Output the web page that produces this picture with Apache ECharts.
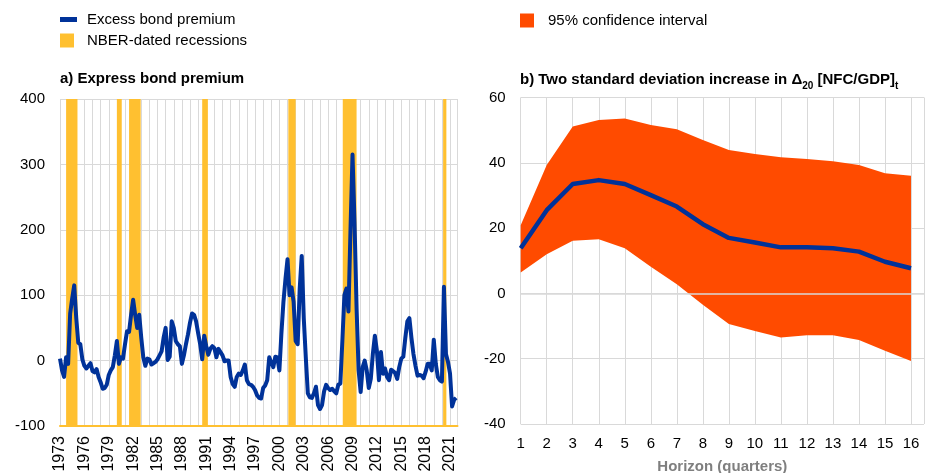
<!DOCTYPE html>
<html>
<head>
<meta charset="utf-8">
<script src="https://cdn.jsdelivr.net/npm/echarts@6/dist/echarts.min.js"></script>
<style>
html,body{margin:0;padding:0;background:#ffffff;}
#chart{width:925px;height:473px;}
</style>
</head>
<body>
<div id="chart"></div>
<script>
// ---------- Panel a) Excess bond premium (quarterly, starting 1973Q1) ----------
const ebpStartYear = 1973;
const ebpPerYear = 4;
const ebpValues = [
  3, -15, -25, 5, -5, 72, 95, 115, 65, 27,
  25, 2, -8, -12, -8, -4, -16, -18, -13, -25,
  -33, -43, -42, -37, -22, -15, -10, 8, 30, -5,
  5, 3, 25, 45, 44, 70, 93, 70, 50, 70,
  35, 5, -8, 3, 2, -6, -4, -2, 2, 8,
  14, 35, 50, 1, 6, 60, 50, 30, 25, 22,
  -5, 8, 25, 40, 58, 72, 70, 60, 42, 25,
  2, 38, 22, 9, 18, 22, 19, 5, 18, 13,
  8, -1, 0, 0, -25, -36, -40, -25, -20, -22,
  -15, -6, -30, -36, -37, -40, -45, -53, -57, -58,
  -42, -38, -30, 5, -3, -10, 6, 5, -15, 42,
  90, 125, 155, 100, 112, 90, 30, 25, 110, 160,
  65, 5, -50, -56, -57, -50, -40, -68, -74, -68,
  -47, -37, -42, -45, -43, -47, -50, -37, -35, 30,
  100, 110, 75, 200, 315, 210, 80, -15, -48, -10,
  0, -15, -42, -28, 10, 38, 15, -30, 13, -20,
  -12, -25, -30, -14, -16, -19, -28, -10, 3, 6,
  35, 60, 65, 35, 10, -8, -23, -22, -23, -27,
  -17, -5, -5, -15, 32, -5, -25, -30, -32, 113,
  10, -2, -20, -70, -60, -57
];
const recessionStart = [1973.75, 1980.0, 1981.5, 1990.5, 2001.1, 2007.8, 2020.15];
const recessionEnd   = [1975.15, 1980.6, 1982.93, 1991.2, 2002.0, 2009.5, 2020.55];
const ebpAxisMin = 1973;
const ebpAxisMax = 2021.92;
const ebpLabelStep = 3;

// ---------- Panel b) Impulse response ----------
const horizons = [1, 2, 3, 4, 5, 6, 7, 8, 9, 10, 11, 12, 13, 14, 15, 16];
const irfMean  = [13.8, 25.5, 33.5, 34.7, 33.5, 30.1, 26.6, 21.2, 17.0, 15.6, 14.1, 14.1, 13.8, 12.8, 9.7, 7.7];
const irfUpper = [20.9, 39.3, 51.1, 53.1, 53.6, 51.6, 50.3, 47.0, 43.9, 42.7, 41.7, 41.2, 40.5, 39.3, 36.8, 36.0];
const irfLower = [6.4, 12.0, 16.1, 16.6, 13.8, 8.2, 2.8, -3.5, -9.4, -11.5, -13.5, -12.8, -12.8, -14.3, -17.6, -20.7];

// ---------- build series data ----------
const ebpData = ebpValues.map((v, i) => [ebpStartYear + i / ebpPerYear, v]);
const recessionAreas = recessionStart.map((s, i) => [{ xAxis: s }, { xAxis: recessionEnd[i] }]);
const bandData = horizons.map((h, i) => [h, irfLower[i], irfUpper[i]]);
const meanData = horizons.map((h, i) => [h, irfMean[i]]);

const FONT = "'Liberation Sans', Arial, sans-serif";
const BLUE = '#003299';
const YELLOW = '#FFC030';
const ORANGE = '#FF4B00';
const GRIDC = '#D9D9D9';

const chart = echarts.init(document.getElementById('chart'), null, { renderer: 'canvas' });

const option = {
  animation: false,
  textStyle: { fontFamily: FONT },
  title: [
    {
      left: 60, top: 71, padding: 0,
      text: 'a) Express bond premium',
      textStyle: { fontSize: 15, fontWeight: 'bold', color: '#000', fontFamily: FONT }
    },
    {
      left: 520, top: 69, padding: 0,
      text: '{b|b) Two standard deviation increase in Δ}{s|20}{b| [NFC/GDP]}{s|t}',
      textStyle: {
        rich: {
          b: { fontSize: 15, fontWeight: 'bold', color: '#000', fontFamily: FONT, lineHeight: 22, verticalAlign: 'middle' },
          s: { fontSize: 10, fontWeight: 'bold', color: '#000', fontFamily: FONT, lineHeight: 10, verticalAlign: 'bottom' }
        }
      }
    }
  ],
  legend: [
    {
      left: 60, top: 12, padding: 0, selectedMode: false,
      itemWidth: 17, itemHeight: 5,
      data: [{ name: 'Excess bond premium', icon: 'rect' }],
      textStyle: { fontSize: 15, color: '#000', fontFamily: FONT, padding: [0, 0, 0, 5] }
    },
    {
      left: 60, top: 33, padding: 0, selectedMode: false,
      itemWidth: 14, itemHeight: 14,
      data: [{ name: 'NBER-dated recessions', icon: 'rect' }],
      textStyle: { fontSize: 15, color: '#000', fontFamily: FONT, padding: [0, 0, 0, 8] }
    },
    {
      left: 520, top: 13, padding: 0, selectedMode: false,
      itemWidth: 14, itemHeight: 14,
      data: [{ name: '95% confidence interval', icon: 'rect' }],
      textStyle: { fontSize: 15, color: '#000', fontFamily: FONT, padding: [0, 0, 0, 9] }
    }
  ],
  grid: [
    { left: 60, right: 467.5, top: 99, bottom: 47, containLabel: false, outerBoundsMode: 'none' },
    { left: 520.7, right: 1, top: 97.5, bottom: 49, containLabel: false, outerBoundsMode: 'none' }
  ],
  xAxis: [
    {
      type: 'value', gridIndex: 0,
      min: ebpAxisMin, max: ebpAxisMax, interval: 1,
      axisLine: { show: true, onZero: false, lineStyle: { color: YELLOW, width: 2 } },
      axisTick: { show: false },
      splitLine: { show: true, lineStyle: { color: GRIDC, width: 1 } },
      axisLabel: {
        rotate: 90, margin: 10, fontSize: 16, color: '#000', fontFamily: FONT,
        showMaxLabel: false,
        formatter: function (v) {
          const r = Math.round(v);
          if (Math.abs(v - r) > 1e-6) return '';
          return ((r - ebpAxisMin) % ebpLabelStep === 0) ? String(r) : '';
        }
      }
    },
    {
      type: 'value', gridIndex: 1,
      min: 1, max: 16.5, interval: 1,
      axisLine: { show: false, onZero: false },
      axisTick: { show: false },
      splitLine: { show: true, lineStyle: { color: GRIDC, width: 1 } },
      axisLabel: {
        margin: 12, fontSize: 15, color: '#000', fontFamily: FONT,
        showMaxLabel: false,
        formatter: function (v) { return Number.isInteger(v) ? String(v) : ''; }
      },
      name: 'Horizon (quarters)', nameLocation: 'middle', nameGap: 35,
      nameTextStyle: { fontSize: 15, fontWeight: 'bold', color: '#7F7F7F', fontFamily: FONT }
    }
  ],
  yAxis: [
    {
      type: 'value', gridIndex: 0,
      min: -100, max: 400, interval: 100,
      axisLine: { show: false }, axisTick: { show: false },
      splitLine: { show: true, lineStyle: { color: GRIDC, width: 1 } },
      axisLabel: { margin: 15, fontSize: 15, color: '#000', fontFamily: FONT }
    },
    {
      type: 'value', gridIndex: 1,
      min: -40, max: 60, interval: 20,
      axisLine: { show: false }, axisTick: { show: false },
      splitLine: { show: true, lineStyle: { color: GRIDC, width: 1 } },
      axisLabel: { margin: 15, fontSize: 15, color: '#000', fontFamily: FONT }
    }
  ],
  series: [
    {
      name: 'NBER-dated recessions', type: 'line', xAxisIndex: 0, yAxisIndex: 0,
      data: [], z: 1, color: YELLOW, itemStyle: { color: YELLOW },
      markArea: {
        silent: true,
        itemStyle: { color: YELLOW, opacity: 1 },
        data: recessionAreas
      }
    },
    {
      name: 'Excess bond premium', type: 'line', xAxisIndex: 0, yAxisIndex: 0,
      data: ebpData, showSymbol: false, symbol: 'none', z: 3,
      color: BLUE, itemStyle: { color: BLUE },
      lineStyle: { color: BLUE, width: 4, join: 'round' }
    },
    {
      name: '95% confidence interval', type: 'custom', xAxisIndex: 1, yAxisIndex: 1,
      data: bandData, encode: { x: 0, y: [1, 2] }, z: 2,
      color: ORANGE, itemStyle: { color: ORANGE },
      renderItem: function (params, api) {
        if (params.dataIndex !== 0) return null;
        const pts = [];
        for (let i = 0; i < horizons.length; i++) pts.push(api.coord([horizons[i], irfUpper[i]]));
        for (let i = horizons.length - 1; i >= 0; i--) pts.push(api.coord([horizons[i], irfLower[i]]));
        return { type: 'polygon', shape: { points: pts }, style: { fill: ORANGE } };
      }
    },
    {
      name: 'Response', type: 'line', xAxisIndex: 1, yAxisIndex: 1,
      data: meanData, symbol: 'none', z: 5,
      color: BLUE, lineStyle: { color: BLUE, width: 4.5, join: 'round' },
      markLine: {
        silent: true, symbol: ['none', 'none'],
        label: { show: false },
        lineStyle: { color: GRIDC, width: 1.5, type: 'solid' },
        data: [{ yAxis: 0 }]
      }
    }
  ]
};
chart.setOption(option);
</script>
</body>
</html>
